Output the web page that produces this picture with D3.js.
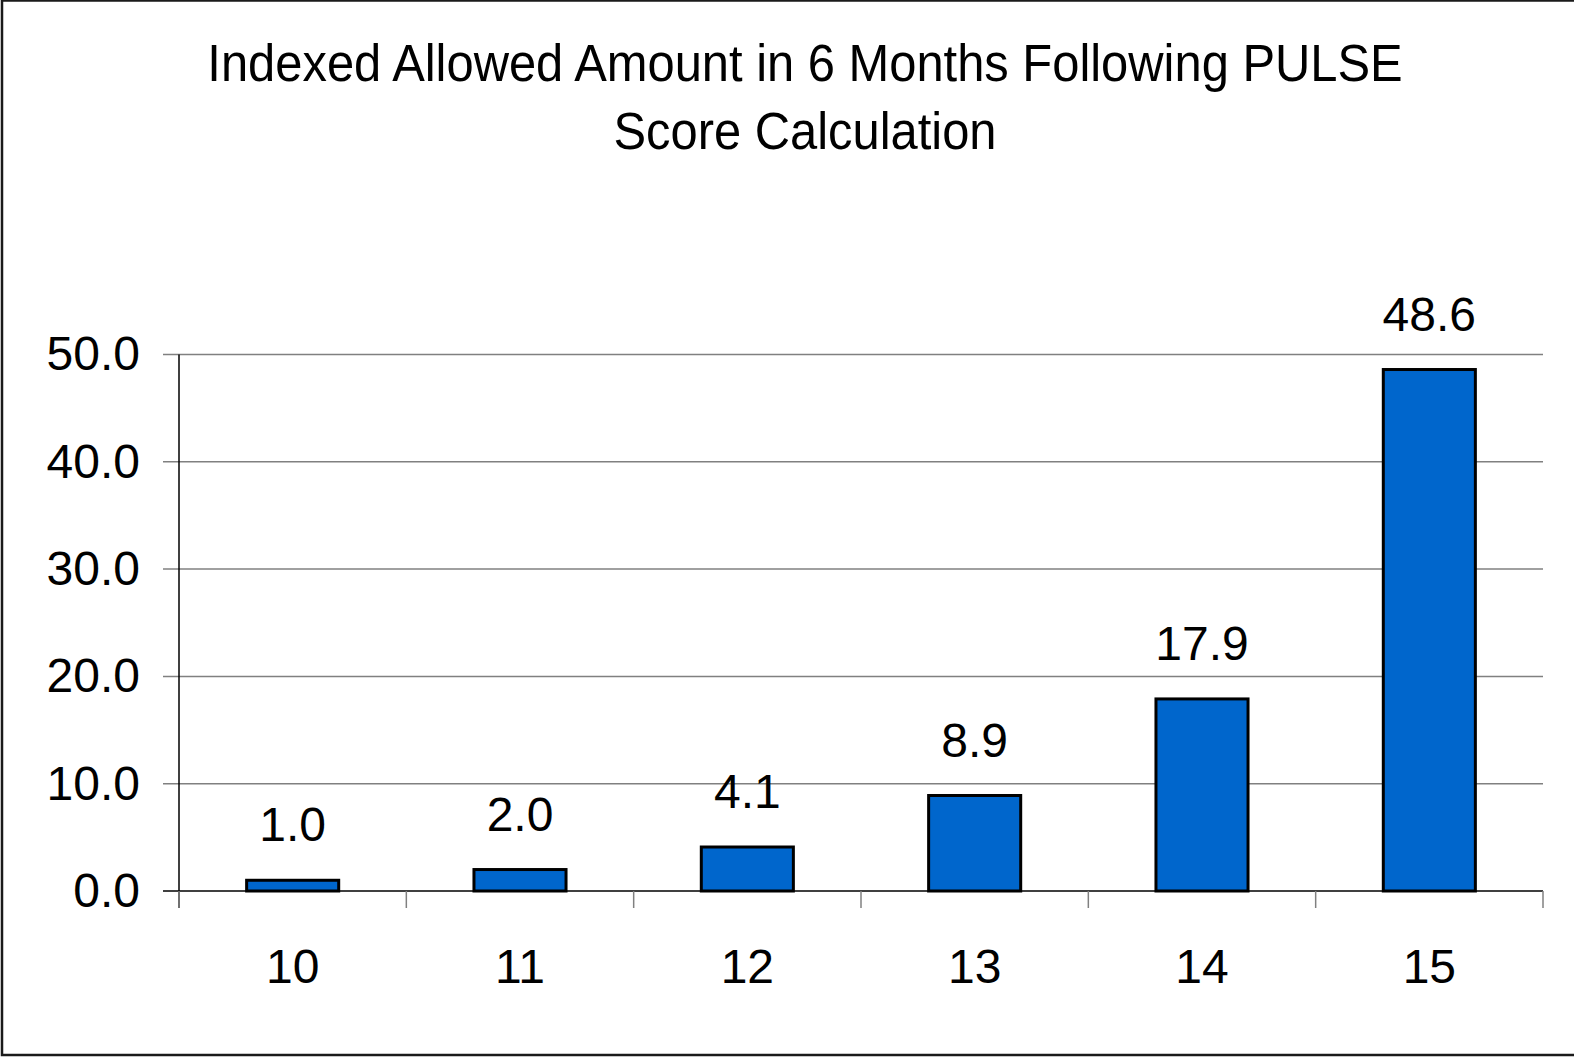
<!DOCTYPE html>
<html>
<head>
<meta charset="utf-8">
<script src="https://cdn.jsdelivr.net/npm/d3@7"></script>
<style>
  body { margin: 0; background: #fff; }
  svg { display: block; font-family: "Liberation Sans", Arial, sans-serif; }
</style>
</head>
<body>
<svg width="1574" height="1057"></svg>
<script>
// chart data
let categories = ['10', '11', '12', '13', '14', '15']
let values = [1.0, 2.0, 4.1, 8.9, 17.9, 48.6]
let yTicks = [0, 10, 20, 30, 40, 50]
let titleLines = ['Indexed Allowed Amount in 6 Months Following PULSE', 'Score Calculation']

let svg = d3.select('svg'),
    margin = {top: 354.5, bottom: 166, left: 179, right: 31}
    width = svg.attr('width') - margin.left - margin.right
    height = svg.attr('height') - margin.top - margin.bottom

let xScale = d3.scaleBand().domain(categories)
        .range([margin.left, margin.left + width])
        .paddingInner(0.595).paddingOuter(0.2975),
    yScale = d3.scaleLinear().domain([0, 50]).range([margin.top + height, margin.top])

// outer frame
svg.append('rect')
    .attr('x', 2).attr('y', 0.5)
    .attr('width', 1580).attr('height', 1054.5)
    .attr('fill', 'none').attr('stroke', '#1a1a1a').attr('stroke-width', 2.5)

// title (slightly condensed like the original)
svg.append('g')
    .attr('transform', 'translate(805,0) scale(0.94,1)')
    .append('text')
    .attr('text-anchor', 'middle')
    .attr('font-size', 52)
    .selectAll('tspan')
    .data(titleLines)
    .enter()
    .append('tspan')
    .attr('x', 0)
    .attr('y', (d, i) => 81 + i * 68)
    .text(d => d)

// gridlines
svg.append('g')
    .selectAll('line')
    .data(yTicks)
    .enter()
    .append('line')
    .attr('x1', margin.left - 16)
    .attr('x2', margin.left + width)
    .attr('y1', d => yScale(d))
    .attr('y2', d => yScale(d))
    .attr('stroke', d => d === 0 ? '#000' : '#808080')
    .attr('stroke-width', 1.5)

// y axis
let yAxis = svg.append('g')
    .attr('transform', 'translate(' + margin.left + ',0)')
    .call(d3.axisLeft(yScale).tickValues(yTicks).tickFormat(d3.format('.1f')).tickSize(16).tickPadding(23))
yAxis.select('.domain').attr('stroke', '#000').attr('stroke-width', 1.5)
    .attr('d', 'M0,' + yScale(50) + 'V' + (yScale(0) + 17))
yAxis.selectAll('.tick line').remove()
yAxis.selectAll('text')
    .attr('font-size', 48)
    .attr('font-family', '"Liberation Sans", Arial, sans-serif')
    .attr('fill', '#000')

// x axis with ticks on category boundaries
let xAxis = svg.append('g')
    .attr('transform', 'translate(0,' + yScale(0) + ')')
xAxis.selectAll('line')
    .data(d3.range(categories.length + 1))
    .enter()
    .append('line')
    .attr('x1', i => margin.left + i * width / categories.length)
    .attr('x2', i => margin.left + i * width / categories.length)
    .attr('y1', 0).attr('y2', 17)
    .attr('stroke', '#808080').attr('stroke-width', 1.5)
xAxis.selectAll('text')
    .data(categories)
    .enter()
    .append('text')
    .attr('text-anchor', 'middle')
    .attr('x', d => xScale(d) + xScale.bandwidth() / 2)
    .attr('y', 92)
    .attr('font-size', 48)
    .text(d => d)

// bars
svg.selectAll('rect.bar')
    .data(values)
    .enter()
    .append('rect')
    .attr('class', 'bar')
    .attr('x', (d, i) => xScale(categories[i]))
    .attr('y', d => yScale(d))
    .attr('width', xScale.bandwidth())
    .attr('height', d => yScale(0) - yScale(d))
    .attr('fill', '#0066CC')
    .attr('stroke', '#000')
    .attr('stroke-width', 3)

// value labels
svg.selectAll('text.value')
    .data(values)
    .enter()
    .append('text')
    .attr('class', 'value')
    .attr('text-anchor', 'middle')
    .attr('x', (d, i) => xScale(categories[i]) + xScale.bandwidth() / 2)
    .attr('y', d => yScale(d) - 39)
    .attr('font-size', 48)
    .text(d => d3.format('.1f')(d))
</script>
</body>
</html>
